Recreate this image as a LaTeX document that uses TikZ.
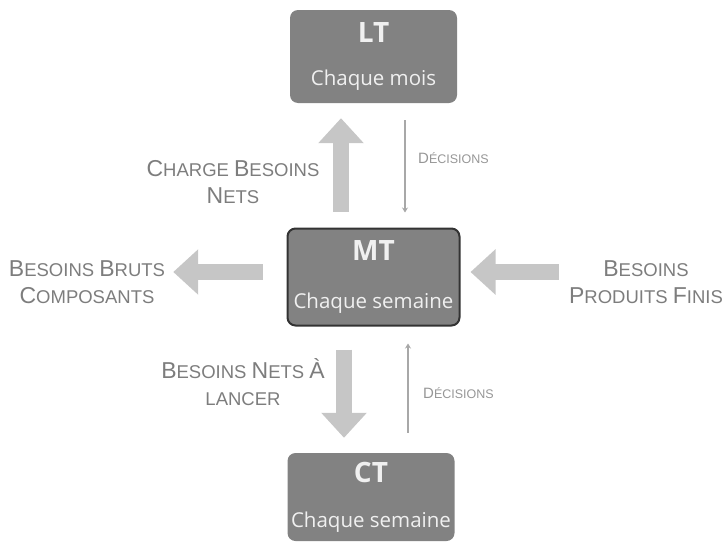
\documentclass[tikz,border=0pt]{standalone}
\usepackage{fontspec}
\setmainfont{Liberation Sans}
\newfontfamily\boxfont{Open Sans}
\usetikzlibrary{arrows.meta}

\definecolor{boxgray}{RGB}{130,130,130}
\definecolor{boxtext}{RGB}{240,240,240}
\definecolor{fatgray}{RGB}{198,198,198}
\definecolor{thingray}{RGB}{168,168,168}
\definecolor{labgray}{RGB}{125,125,125}
\definecolor{decgray}{RGB}{150,150,150}

% faux small caps
\newcommand\lsc[2]{{\fontsize{23}{27}\selectfont #1}{\fontsize{18.5}{27}\selectfont\MakeUppercase{#2}}}
\newcommand\dsc[2]{{\fontsize{15}{16}\selectfont #1}{\fontsize{12.5}{16}\selectfont\MakeUppercase{#2}}}

\begin{document}
\begin{tikzpicture}[
  x=1pt, y=-1pt,
  horizon/.style={draw=none,fill=boxgray,rounded corners=8pt,
    minimum width=167pt,minimum height=93pt,align=center,
    text=boxtext,font=\boxfont,inner sep=0pt},
  mid/.style={horizon,draw=black!80,line width=2pt,
    minimum width=172pt,minimum height=97pt},
  flux/.style={text=labgray,align=center,inner sep=0pt,
    font=\fontsize{18.5}{27}\selectfont},
  dec/.style={text=decgray,inner sep=0pt,anchor=west},
  fat/.style={fatgray,line width=16pt,
    -{Triangle[width=44pt,length=25pt]}},
  thin/.style={thingray,line width=2pt,
    -{Stealth[width=6pt,length=5pt]}}]
\useasboundingbox (0,0) rectangle (728,549);

\node[horizon] (lt) at (373.5,56.5)
  {{\fontsize{28}{30}\selectfont\bfseries LT}\\[26pt]{\fontsize{20.5}{22}\selectfont Chaque mois}};
\node[mid] (mt) at (373.5,277)
  {{\fontsize{28}{30}\selectfont\bfseries MT}\\[32pt]{\fontsize{20.5}{22}\selectfont Chaque semaine}};
\node[horizon,minimum height=88pt] (ct) at (371,497)
  {{\fontsize{28}{30}\selectfont\bfseries CT}\\[28pt]{\fontsize{20.5}{22}\selectfont Chaque semaine}};

\node[flux] (cbn) at (233,182) {\lsc{C}{harge} \lsc{B}{esoins}\\\lsc{N}{ets}};
\node[flux] (bbc) at (87,282) {\lsc{B}{esoins} \lsc{B}{ruts}\\\lsc{C}{omposants}};
\node[flux] (bpf) at (646,282) {\lsc{B}{esoins}\\\lsc{P}{roduits} \lsc{F}{inis}};
\node[flux] (bnl) at (243,382) {\lsc{B}{esoins} \lsc{N}{ets} \lsc{À}{}\\\lsc{}{lancer}};
\node[dec] (dec1) at (418,158) {\dsc{D}{écisions}};
\node[dec] (dec2) at (423,393) {\dsc{D}{écisions}};

\draw[fat,shorten <=16pt,shorten >=15pt] ([xshift=-32.5pt]mt.north) -- ([xshift=-32.5pt]lt.south);
\draw[thin,shorten <=17pt,shorten >=15pt] ([xshift=31.5pt]lt.south) -- ([xshift=31.5pt]mt.north);
\draw[fat,shorten <=24pt,shorten >=8pt] ([yshift=5pt]mt.west) -- ([yshift=5pt]bbc.east |- mt.west);
\draw[fat,shorten <=10pt,shorten >=10pt] ([yshift=5pt]bpf.west |- mt.east) -- ([yshift=5pt]mt.east);
\draw[fat,shorten <=23pt,shorten >=15pt] ([xshift=-29.5pt]mt.south) -- ([xshift=-29.5pt]mt.south |- ct.north);
\draw[thin,shorten <=20pt,shorten >=17pt] ([xshift=37pt]ct.north) -- ([xshift=37pt]ct.north |- mt.south);
\end{tikzpicture}
\end{document}
